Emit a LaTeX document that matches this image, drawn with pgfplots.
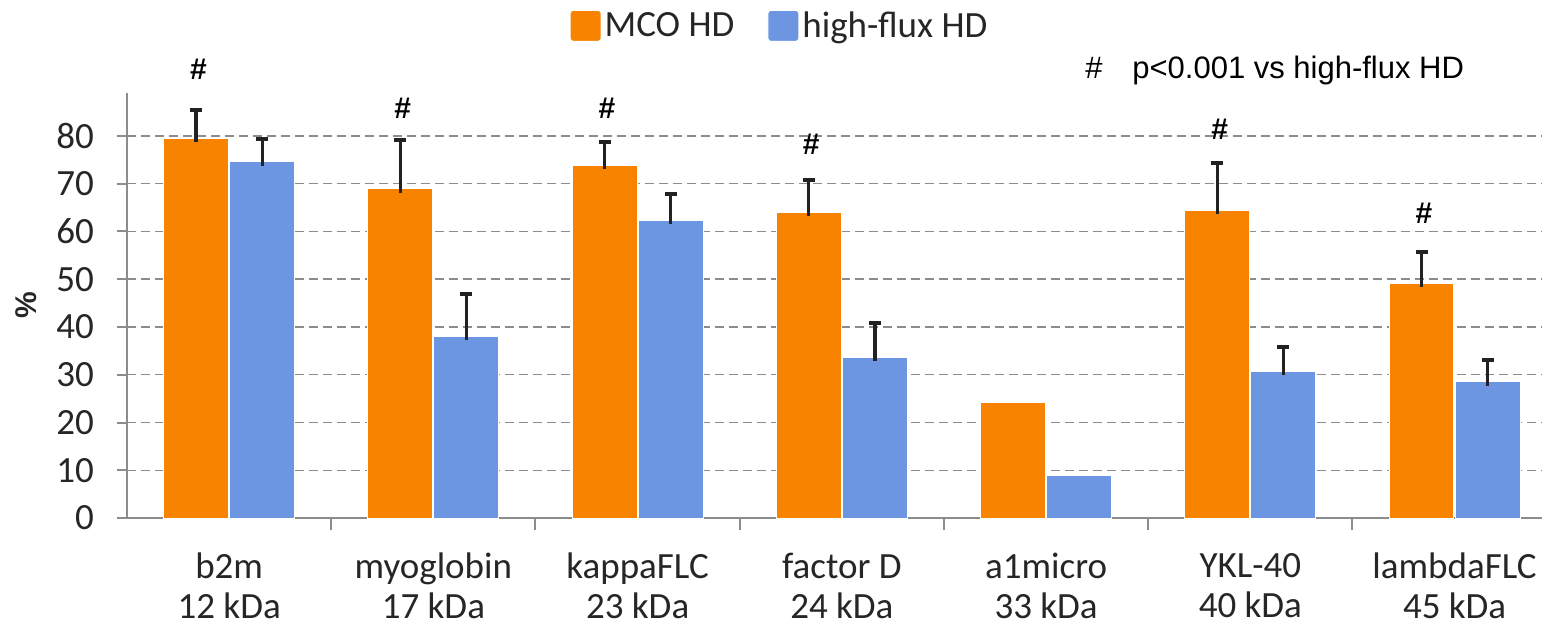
\documentclass[border=0pt]{standalone}
\usepackage{pgfplots}
\pgfplotsset{compat=1.18}
\usepackage{fontspec}
\setmainfont{Carlito}
\newfontfamily\arial{Liberation Sans}
\usetikzlibrary{calc}
\definecolor{mco}{RGB}{248,131,0}
\definecolor{hf}{RGB}{109,150,226}
\definecolor{axgray}{RGB}{140,140,140}
\definecolor{errc}{RGB}{34,34,34}
\begin{document}
\begin{tikzpicture}
\begin{axis}[
  scale only axis, width=707.5bp, height=212.5bp,
  xmin=-0.5, xmax=6.428, ymin=0, ymax=89,
  ybar, bar width=0.318,
  axis x line*=bottom, axis y line*=left,
  axis line style={axgray, line width=1bp},
  xtick={0,...,6},
  xticklabels={{b2m\\12 kDa},{myoglobin\\17 kDa},{kappaFLC\\23 kDa},{factor D\\24 kDa},{a1micro\\33 kDa},{YKL-40\\40 kDa},{lambdaFLC\\45 kDa}},
  xticklabel style={align=center, font=\fontsize{18.5bp}{20bp}\selectfont, text=black!85, yshift=-9bp},
  minor xtick={0.5,1.5,...,5.5},
  ytick={0,10,...,80},
  yticklabel style={font=\fontsize{18.5bp}{20bp}\selectfont, text=black!85, xshift=-8bp},
  /pgf/number format/assume math mode=true,
  tick align=outside, major tick length=5bp, minor tick length=6bp,
  tick style={axgray, line width=1bp},
  every major x tick/.append style={draw=none},
  ymajorgrids, grid style={axgray, dash pattern=on 4.5bp off 2.5bp, line width=0.75bp},
  clip=false,
  legend columns=2,
  legend style={draw=none, fill=none, at={(0.4615,1.158)}, anchor=center,
    font=\fontsize{18.5bp}{20bp}\selectfont, text=black!85,
    nodes={inner xsep=1.5bp},
    /tikz/every even column/.append style={column sep=15bp}},
  legend image code/.code={\fill[#1, rounded corners=1.5bp] (0bp,-7.75bp) rectangle (15.5bp,7.75bp);},
]
% MCO HD bars with error bars
\addplot[fill=mco, draw=white, line width=0.5bp, bar shift=-0.162,
  error bars/.cd, y dir=plus, y explicit,
  error bar style={errc, line width=1.6bp, shorten <=-2bp},
  error mark options={errc, line width=2bp, mark size=3bp, rotate=90}]
  coordinates {(0,79.5) +- (0,6.0) (1,69.0) +- (0,10.2) (2,73.9) +- (0,4.8) (3,64.0) +- (0,6.8) (5,64.5) +- (0,9.8) (6,49.2) +- (0,6.5)};
\addlegendentry{MCO HD}
\addplot[forget plot, fill=mco, draw=white, line width=0.5bp, bar shift=-0.162]
  coordinates {(4,24.25)};
% high-flux HD
\addplot[fill=hf, draw=white, line width=0.5bp, bar shift=0.162,
  error bars/.cd, y dir=plus, y explicit,
  error bar style={errc, line width=1.6bp, shorten <=-2bp},
  error mark options={errc, line width=2bp, mark size=3bp, rotate=90}]
  coordinates {(0,74.6) +- (0,4.8) (1,38.1) +- (0,8.8) (2,62.4) +- (0,5.4) (3,33.7) +- (0,7.2) (5,30.75) +- (0,5.0) (6,28.5) +- (0,4.55)};
\addlegendentry{high-flux HD}
\addplot[forget plot, fill=hf, draw=white, line width=0.5bp, bar shift=0.162]
  coordinates {(4,9.0)};
% significance marks
\begin{scope}[every node/.style={font=\arial\bfseries\fontsize{15bp}{17bp}\selectfont, text=black}]
\node at (axis cs:-0.15,93.9) {\#};
\node at (axis cs:0.85,85.9) {\#};
\node at (axis cs:1.85,85.9) {\#};
\node at (axis cs:2.85,78.2) {\#};
\node at (axis cs:4.85,81.3) {\#};
\node at (axis cs:5.85,63.9) {\#};
\end{scope}
\node[anchor=base west, inner sep=0pt, font=\arial\fontsize{15.5bp}{18bp}\selectfont, text=black]
  at (axis cs:4.19,91.95) {\#\hspace*{14.9bp}p<0.001 vs high-flux HD};
\node[rotate=90, font=\arial\bfseries\fontsize{15bp}{18bp}\selectfont, text=black!85]
  at ([xshift=-50.5bp]rel axis cs:0,0.5) {\%};
\end{axis}
\pgfresetboundingbox
\useasboundingbox ($(current axis.south west)+(-63.5bp,-54bp)$) rectangle ($(current axis.north east)+(0bp,46.5bp)$);
\end{tikzpicture}
\end{document}
